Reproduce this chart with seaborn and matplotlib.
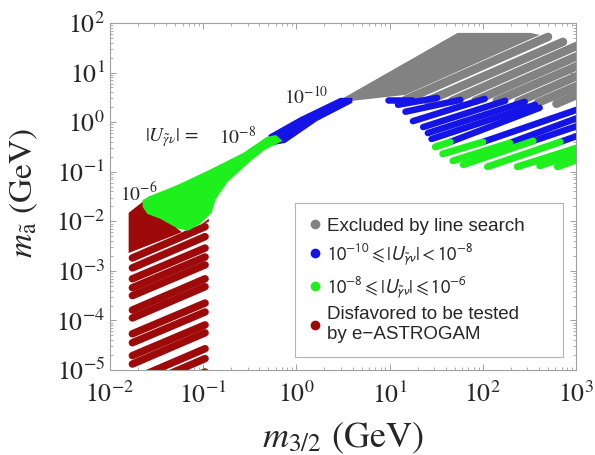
import matplotlib
matplotlib.use("Agg")
import numpy as np
import pandas as pd
import matplotlib.pyplot as plt
from matplotlib.lines import Line2D
from matplotlib.font_manager import FontProperties
from matplotlib.ticker import LogLocator, NullFormatter
import seaborn as sns

sns.set_style("ticks", {"xtick.direction": "in", "ytick.direction": "in"})
plt.rcParams["font.family"] = ["STIXGeneral", "DejaVu Serif"]
plt.rcParams["mathtext.fontset"] = "stix"

C_GRAY = "#828282"
C_BLUE = "#1414e6"
C_GREEN = "#1ef01e"
C_RED = "#9e0a0a"
FRAME = "#a0a0a0"

# All values are log10 of the mass in GeV: lx = log10(m_3/2), ly = log10(m_a)

# Excluded by the line search: solid part of the region
gray_fill_lx = [0.47, 1.73, 2.51, 2.61, 1.17, 0.60]
gray_fill_ly = [0.45, 1.80, 1.80, 1.76, 0.55, 0.43]
# Excluded by the line search: scan lines below the solid part
gray_lx0 = [1.17, 1.41, 1.67, 1.92, 2.15, 2.38, 2.59, 2.79]
gray_ly0 = [0.45, 0.43, 0.43, 0.43, 0.43, 0.41, 0.39, 0.37]
gray_lx1 = [2.70, 2.86, 3.01, 3.01, 3.01, 3.01, 3.01, 3.01]
gray_ly1 = [1.72, 1.62, 1.54, 1.33, 1.13, 0.93, 0.73, 0.55]

# 1e-10 <= |U| < 1e-8: narrow band along the diagonal
blue_fill_lx = [-0.30, 0.04, 0.47, 0.60, 0.60, 0.22, -0.12, -0.30]
blue_fill_ly = [-0.26, 0.10, 0.49, 0.49, 0.39, 0.02, -0.42, -0.48]
# 1e-10 <= |U| < 1e-8: scan lines at large m_3/2
blue_lx0 = [0.98, 1.09, 1.17, 1.25, 1.36, 1.41, 1.45, 1.65, 2.00, 2.29, 2.54, 2.83]
blue_ly0 = [0.45, 0.35, 0.21, 0.02, -0.10, -0.22, -0.34, -0.40, -0.40, -0.42, -0.38, -0.40]
blue_lx1 = [1.24, 1.51, 1.76, 2.02, 2.24, 2.45, 2.56, 2.61, 3.01, 3.01, 3.01, 3.01]
blue_ly1 = [0.45, 0.49, 0.45, 0.47, 0.43, 0.41, 0.35, 0.29, 0.25, 0.08, -0.08, -0.28]

# 1e-8 <= |U| <= 1e-6: cone at small masses
green_fill_lx = [-1.65, -1.57, -1.28, -0.93, -0.57, -0.32, -0.22, -0.15, -0.34, -0.50,
                 -0.74, -0.87, -0.91, -1.03, -1.16, -1.27, -1.46, -1.60, -1.65]
green_fill_ly = [-1.57, -1.49, -1.27, -0.96, -0.62, -0.30, -0.26, -0.38, -0.56, -0.80,
                 -1.21, -1.57, -1.83, -2.05, -2.19, -2.15, -1.95, -1.85, -1.71]
# 1e-8 <= |U| <= 1e-6: scan lines at large m_3/2
green_lx0 = [1.49, 1.57, 1.68, 1.79, 2.05, 2.37, 2.61, 2.80]
green_ly0 = [-0.50, -0.64, -0.78, -0.86, -0.90, -0.90, -0.88, -0.90]
green_lx1 = [1.65, 2.00, 2.29, 2.54, 2.83, 3.01, 3.01, 3.01]
green_ly1 = [-0.40, -0.40, -0.42, -0.38, -0.40, -0.52, -0.64, -0.76]

# Disfavored to be tested by e-ASTROGAM
red_fill_lx = [-1.80, -1.57, -1.38, -1.29, -1.18, -0.94, -0.94, -1.80]
red_fill_ly = [-1.83, -1.49, -1.57, -2.13, -2.29, -1.95, -2.01, -2.64]
red_lx0 = [-1.76] * 14
red_lx1 = [-0.98] * 14
red_ly0 = [-2.74, -2.94, -3.16, -3.34, -3.50, -3.79, -3.95, -4.27, -4.45, -4.71,
           -4.88, -5.20, -5.40, -5.66]
red_ly1 = [-2.11, -2.31, -2.54, -2.72, -2.88, -3.16, -3.32, -3.65, -3.83, -4.09,
           -4.25, -4.57, -4.77, -5.04]

legend_labels = [
    "Excluded by line search",
    r"$10^{-10} \leqslant |U_{\tilde{\gamma}\nu}| < 10^{-8}$",
    r"$10^{-8} \leqslant |U_{\tilde{\gamma}\nu}| \leqslant 10^{-6}$",
    "Disfavored to be tested\nby e\u2212ASTROGAM",
]
legend_colors = [C_GRAY, C_BLUE, C_GREEN, C_RED]


def segments(lx0, ly0, lx1, ly1, tag):
    rows = []
    for i, (a, b, c, d) in enumerate(zip(lx0, ly0, lx1, ly1)):
        rows.append({"m32": 10.0 ** a, "ma": 10.0 ** b, "seg": f"{tag}{i}"})
        rows.append({"m32": 10.0 ** c, "ma": 10.0 ** d, "seg": f"{tag}{i}"})
    return pd.DataFrame(rows)


def region(ax, lx, ly, color):
    ax.fill(10.0 ** np.asarray(lx), 10.0 ** np.asarray(ly), color=color, lw=0, zorder=2)


def scan_lines(ax, df, color, width_px):
    sns.lineplot(data=df, x="m32", y="ma", units="seg", estimator=None, sort=False,
                 color=color, linewidth=width_px * 0.72, solid_capstyle="round",
                 legend=False, ax=ax, zorder=2)


fig = plt.figure(figsize=(5.95, 4.55), dpi=100)
ax = fig.add_axes([110 / 595, 85 / 455, 466 / 595, 347 / 455])
ax.set_xscale("log")
ax.set_yscale("log")

region(ax, gray_fill_lx, gray_fill_ly, C_GRAY)
scan_lines(ax, segments(gray_lx0, gray_ly0, gray_lx1, gray_ly1, "g"), C_GRAY, 8.5)
region(ax, blue_fill_lx, blue_fill_ly, C_BLUE)
scan_lines(ax, segments(blue_lx0, blue_ly0, blue_lx1, blue_ly1, "b"), C_BLUE, 6.5)
region(ax, red_fill_lx, red_fill_ly, C_RED)
scan_lines(ax, segments(red_lx0, red_ly0, red_lx1, red_ly1, "r"), C_RED, 7.5)
region(ax, green_fill_lx, green_fill_ly, C_GREEN)
scan_lines(ax, segments(green_lx0, green_ly0, green_lx1, green_ly1, "n"), C_GREEN, 7)

ax.set_xlim(1e-2, 1e3)
ax.set_ylim(1e-5, 1e2)
for axis in (ax.xaxis, ax.yaxis):
    axis.set_major_locator(LogLocator(base=10, numticks=20))
    axis.set_minor_locator(LogLocator(base=10, subs=np.arange(2, 10), numticks=20))
    axis.set_minor_formatter(NullFormatter())

# contour labels
ax.text(1.29, 3.24, r"$10^{-10}$", fontsize=14, ha="center", va="center")
ax.text(0.0466, 0.50, r"$|U_{\tilde{\gamma}\nu}|\,=$", fontsize=14, ha="center", va="center")
ax.text(0.236, 0.50, r"$10^{-8}$", fontsize=14, ha="center", va="center")
ax.text(0.0205, 0.037, r"$10^{-6}$", fontsize=14, ha="center", va="center")

ax.set_xlabel(r"$m_{3/2}$ (GeV)", fontsize=26)
ax.xaxis.set_label_coords(0.50, -0.148)
ax.set_ylabel(r"$m_{\tilde{\mathrm{a}}}$ (GeV)", fontsize=24)
ax.yaxis.set_label_coords(-0.15, 0.51)

for s in ax.spines.values():
    s.set_color(FRAME)
    s.set_linewidth(0.8)
ax.tick_params(which="both", direction="in", top=True, right=True, color=FRAME,
               labelsize=18.5)
ax.tick_params(which="major", length=4.5, width=0.7)
ax.tick_params(which="minor", length=2.5, width=0.6)
ax.tick_params(axis="x", pad=9)

handles = [Line2D([], [], marker="o", ls="", color=c, markersize=6) for c in legend_colors]
prop = FontProperties(family=["Liberation Sans", "DejaVu Sans"], size=13.5,
                      math_fontfamily="stixsans")
leg = ax.legend(handles, legend_labels, loc="lower left",
                bbox_to_anchor=(0.397, 0.037, 0.575, 0.45), mode="expand",
                borderaxespad=0, prop=prop, frameon=True, fancybox=False,
                edgecolor=FRAME, handlelength=0.6, handletextpad=0.35,
                labelspacing=0.36, borderpad=0.75)
leg.get_frame().set_linewidth(0.8)
leg.set_zorder(5)

fig.savefig("out.png", dpi=100)
